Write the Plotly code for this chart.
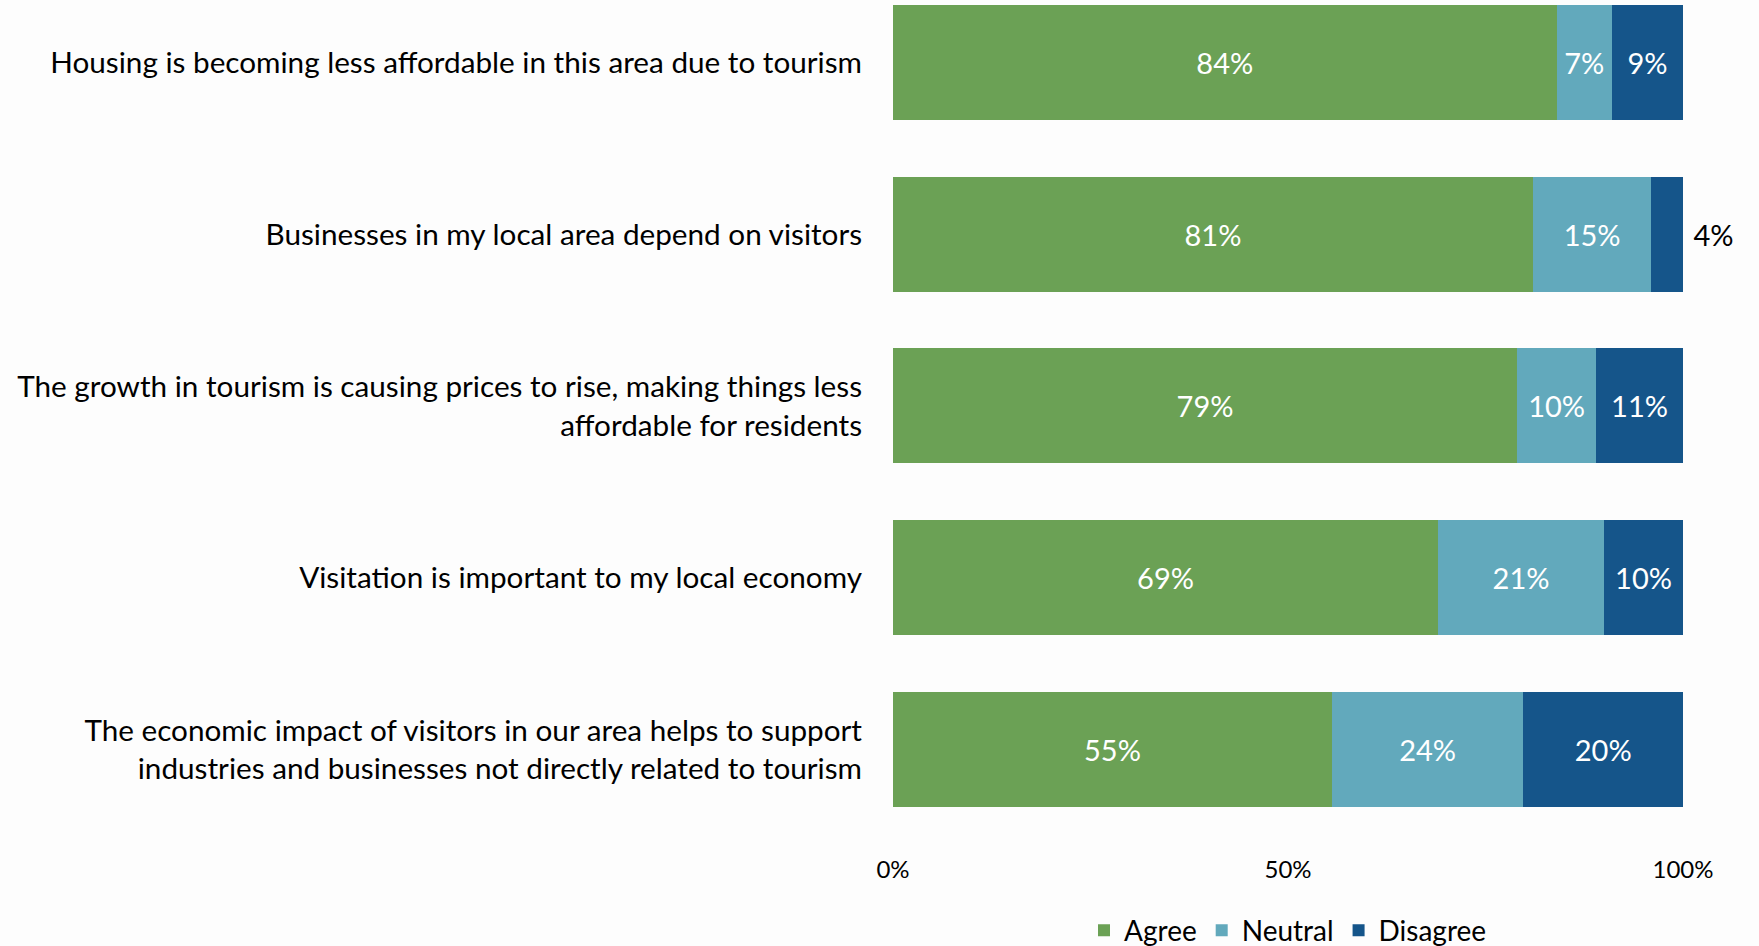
import plotly.graph_objects as go

# Survey statements (top to bottom)
statements = [
    "Housing is becoming less affordable in this area due to tourism",
    "Businesses in my local area depend on visitors",
    "The growth in tourism is causing prices to rise, making things less<br>affordable for residents",
    "Visitation is important to my local economy",
    "The economic impact of visitors in our area helps to support<br>industries and businesses not directly related to tourism",
]

# Share of respondents (%) per response
agree = [84, 81, 79, 69, 55]
neutral = [7, 15, 10, 21, 24]
disagree = [9, 4, 11, 10, 20]

series_names = ["Agree", "Neutral", "Disagree"]
series_colors = ["#6BA155", "#62A9BC", "#15558A"]

x_tick_vals = [0, 50, 100]
x_tick_text = ["0%", "50%", "100%"]

FONT = "Lato"

fig = go.Figure()
for name, vals, color in zip(series_names, [agree, neutral, disagree], series_colors):
    # the thin Disagree sliver carries its label outside the bar
    outside = [name == "Disagree" and v < 5 for v in vals]
    fig.add_trace(go.Bar(
        y=statements,
        x=vals,
        name=name,
        orientation="h",
        marker=dict(color=color, line=dict(width=0)),
        text=[("\u00a0" if o else "") + f"{v}%" for v, o in zip(vals, outside)],
        textposition=["outside" if o else "inside" for o in outside],
        insidetextanchor="middle",
        textangle=0,
        constraintext="none",
        cliponaxis=False,
        insidetextfont=dict(family=FONT, size=29, color="white"),
        outsidetextfont=dict(family=FONT, size=29, color="black"),
        hoverinfo="skip",
    ))

fig.update_layout(
    barmode="stack",
    barnorm="percent",
    bargap=0.331,
    width=1759,
    height=946,
    margin=dict(l=893, r=76, t=0, b=100, autoexpand=False),
    paper_bgcolor="#FDFDFD",
    plot_bgcolor="#FDFDFD",
    font=dict(family=FONT, size=29, color="black"),
    showlegend=True,
    legend=dict(
        orientation="h",
        x=0.5, xanchor="center",
        y=-0.1, yanchor="middle",
        font=dict(family=FONT, size=28, color="black"),
        itemwidth=30,
        traceorder="normal",
    ),
    xaxis=dict(
        range=[0, 100.0001],
        tickvals=x_tick_vals,
        ticktext=x_tick_text,
        showgrid=False,
        zeroline=False,
        showline=False,
        tickfont=dict(family=FONT, size=24, color="black"),
        ticklabelstandoff=7,
    ),
    yaxis=dict(
        type="category",
        categoryorder="array",
        categoryarray=statements,
        range=[4.560, -0.362],
        showgrid=False,
        zeroline=False,
        showline=False,
        tickfont=dict(family=FONT, size=29.7, color="black"),
        ticklabelstandoff=30,
    ),
)

fig.write_html("out.html")
